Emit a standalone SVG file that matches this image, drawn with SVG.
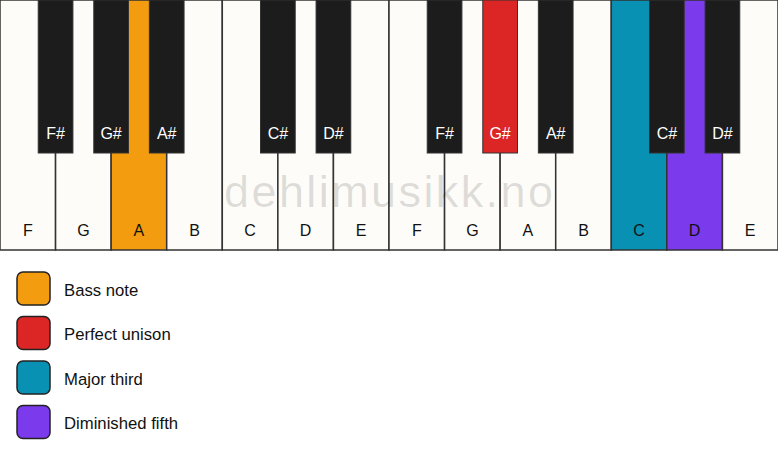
<svg xmlns="http://www.w3.org/2000/svg" width="778" height="461" viewBox="0 0 778 461">
<style>
.w{fill:#fdfcf8;stroke:#333;stroke-width:1.5}
.b{fill:#1c1c1c;stroke:#333;stroke-width:1}
.lw{font-family:"Liberation Sans",Arial,sans-serif;font-size:16px;fill:#111;text-anchor:middle}
.lb{font-family:"Liberation Sans",Arial,sans-serif;font-size:16px;fill:#fff;text-anchor:middle}
.lg{font-family:"Liberation Sans",Arial,sans-serif;font-size:16.7px;fill:#111}
.sw{stroke:#222;stroke-width:1.5}
</style>
<rect width="778" height="461" fill="#ffffff"/>
<g id="white-keys">
<g id="wk-F1"><rect class="w" x="0" y="0" width="55.57" height="250"/><text class="lw" x="27.8" y="236">F</text></g>
<g id="wk-G1"><rect class="w" x="55.57" y="0" width="55.57" height="250"/><text class="lw" x="83.4" y="236">G</text></g>
<g id="wk-A1"><rect class="w" x="111.14" y="0" width="55.57" height="250" style="fill:#f39c0f"/><text class="lw" x="138.9" y="236">A</text></g>
<g id="wk-B1"><rect class="w" x="166.71" y="0" width="55.57" height="250"/><text class="lw" x="194.5" y="236">B</text></g>
<g id="wk-C1"><rect class="w" x="222.29" y="0" width="55.57" height="250"/><text class="lw" x="250.1" y="236">C</text></g>
<g id="wk-D1"><rect class="w" x="277.86" y="0" width="55.57" height="250"/><text class="lw" x="305.6" y="236">D</text></g>
<g id="wk-E1"><rect class="w" x="333.43" y="0" width="55.57" height="250"/><text class="lw" x="361.2" y="236">E</text></g>
<g id="wk-F2"><rect class="w" x="389" y="0" width="55.57" height="250"/><text class="lw" x="416.8" y="236">F</text></g>
<g id="wk-G2"><rect class="w" x="444.57" y="0" width="55.57" height="250"/><text class="lw" x="472.4" y="236">G</text></g>
<g id="wk-A2"><rect class="w" x="500.14" y="0" width="55.57" height="250"/><text class="lw" x="527.9" y="236">A</text></g>
<g id="wk-B2"><rect class="w" x="555.71" y="0" width="55.57" height="250"/><text class="lw" x="583.5" y="236">B</text></g>
<g id="wk-C2"><rect class="w" x="611.29" y="0" width="55.57" height="250" style="fill:#0891b2"/><text class="lw" x="639.1" y="236">C</text></g>
<g id="wk-D2"><rect class="w" x="666.86" y="0" width="55.57" height="250" style="fill:#7c3aed"/><text class="lw" x="694.6" y="236">D</text></g>
<g id="wk-E2"><rect class="w" x="722.43" y="0" width="55.57" height="250"/><text class="lw" x="750.2" y="236">E</text></g>
</g>
<text x="224" y="207" font-family="'Liberation Sans',Arial,sans-serif" font-size="45" fill="#000" fill-opacity="0.13" textLength="329" lengthAdjust="spacing">dehlimusikk.no</text>
<g id="black-keys">
<g id="bk-Fs1"><rect class="b" x="38.22" y="0" width="34.7" height="153"/><text class="lb" x="55.6" y="139">F#</text></g>
<g id="bk-Gs1"><rect class="b" x="93.79" y="0" width="34.7" height="153"/><text class="lb" x="111.1" y="139">G#</text></g>
<g id="bk-As1"><rect class="b" x="149.36" y="0" width="34.7" height="153"/><text class="lb" x="166.7" y="139">A#</text></g>
<g id="bk-Cs1"><rect class="b" x="260.51" y="0" width="34.7" height="153"/><text class="lb" x="277.9" y="139">C#</text></g>
<g id="bk-Ds1"><rect class="b" x="316.08" y="0" width="34.7" height="153"/><text class="lb" x="333.4" y="139">D#</text></g>
<g id="bk-Fs2"><rect class="b" x="427.22" y="0" width="34.7" height="153"/><text class="lb" x="444.6" y="139">F#</text></g>
<g id="bk-Gs2"><rect class="b" x="482.79" y="0" width="34.7" height="153" style="fill:#dc2626"/><text class="lb" x="500.1" y="139">G#</text></g>
<g id="bk-As2"><rect class="b" x="538.36" y="0" width="34.7" height="153"/><text class="lb" x="555.7" y="139">A#</text></g>
<g id="bk-Cs2"><rect class="b" x="649.51" y="0" width="34.7" height="153"/><text class="lb" x="666.9" y="139">C#</text></g>
<g id="bk-Ds2"><rect class="b" x="705.08" y="0" width="34.7" height="153"/><text class="lb" x="722.4" y="139">D#</text></g>
</g>
<g id="legend">
<g id="lg-bass"><rect class="sw" x="17" y="272" width="33" height="33" rx="6" fill="#f39c0f"/><text class="lg" x="64" y="295.5">Bass note</text></g>
<g id="lg-unison"><rect class="sw" x="17" y="316.5" width="33" height="33" rx="6" fill="#dc2626"/><text class="lg" x="64" y="340">Perfect unison</text></g>
<g id="lg-third"><rect class="sw" x="17" y="361" width="33" height="33" rx="6" fill="#0891b2"/><text class="lg" x="64" y="384.5">Major third</text></g>
<g id="lg-fifth"><rect class="sw" x="17" y="405.5" width="33" height="33" rx="6" fill="#7c3aed"/><text class="lg" x="64" y="429">Diminished fifth</text></g>
</g>
<g id="connectors"/>
</svg>
